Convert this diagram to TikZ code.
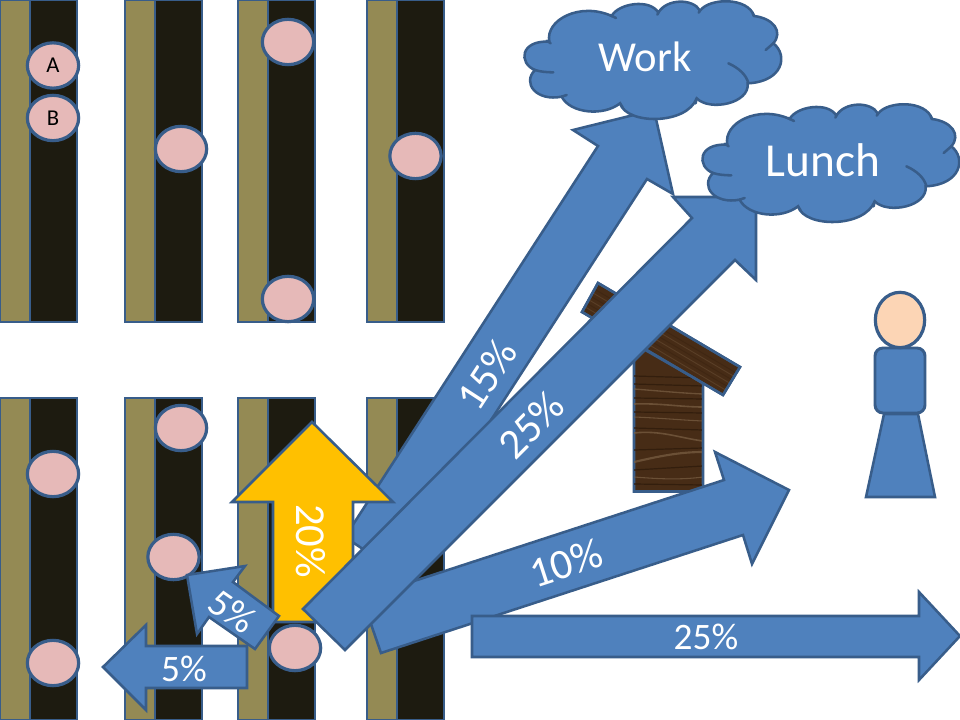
\documentclass[tikz,border=0pt]{standalone}
\usepackage{fontspec}
\setmainfont{Carlito}
\usetikzlibrary{shapes.geometric,calc}
\definecolor{bluefill}{HTML}{4F81BD}
\definecolor{blueline}{HTML}{385D8A}
\definecolor{olivefill}{HTML}{948A54}
\definecolor{darkfill}{HTML}{1D1B10}
\definecolor{pinkfill}{HTML}{E6B9B8}
\definecolor{amberfill}{HTML}{FFC000}
\definecolor{skinfill}{HTML}{FCD5B5}
\definecolor{woodfill}{HTML}{472C16}
\definecolor{woodlight}{HTML}{7B6045}
\definecolor{wooddark}{HTML}{331E0D}
\tikzset{
  outl/.style={draw=blueline,line width=1.9pt,line join=miter},
  olivestrip/.style={outl,fill=olivefill},
  darkstrip/.style={outl,fill=darkfill},
  peg/.style={ellipse,outl,line width=2.4pt,fill=pinkfill,minimum width=38.5pt,minimum height=34pt,inner sep=0pt,font=\fontsize{17}{19}\selectfont,text=black},
  bluearrow/.style={outl,fill=bluefill},
  amberarrow/.style={outl,fill=amberfill},
  lbl/.style={text=white,inner sep=0pt,font=\fontsize{28}{30}\selectfont},
  lblbig/.style={lbl,font=\fontsize{32}{34}\selectfont},
  wood/.style={outl,fill=woodfill},
  streak/.style={woodlight,line width=.8pt,opacity=.7},
  dstreak/.style={wooddark,line width=.9pt},
  cloudfill/.style={outl,fill=bluefill,line width=1.9pt},
  cloudinner/.style={draw=blueline,line width=1.9pt,line cap=round}
}
\newcommand{\stripset}[2]{%
  \draw[olivestrip] (#1,#2) rectangle ++(30,322);
  \draw[darkstrip] (#1+30,#2) rectangle ++(47,322);
}
\newcommand{\cloudat}[2]{%
  \begin{scope}[shift={(#1,#2)},x=.25pt,y=-.25pt]
    \path[cloudfill] (208,125)
      .. controls (195,60) and (300,5) .. (395,48)
      .. controls (415,10) and (510,-5) .. (535,38)
      .. controls (560,-5) and (640,-5) .. (660,32)
      .. controls (690,-8) and (805,-8) .. (822,48)
      .. controls (880,55) and (910,95) .. (880,130)
      .. controls (925,165) and (910,245) .. (803,250)
      .. controls (810,310) and (690,335) .. (650,295)
      .. controls (620,375) and (440,375) .. (420,310)
      .. controls (370,350) and (270,340) .. (245,290)
      .. controls (170,305) and (125,250) .. (165,210)
      .. controls (115,190) and (120,120) .. (208,125) -- cycle;
    \draw[cloudinner] (200,122) -- (212,130);
    \draw[cloudinner] (390,45) -- (408,54);
    \draw[cloudinner] (535,38) -- (532,44);
    \draw[cloudinner] (660,32) -- (656,38);
    \draw[cloudinner] (822,48) -- (818,40);
    \draw[cloudinner] (880,130) -- (857,150);
    \draw[cloudinner] (745,190) .. controls (775,203) and (800,225) .. (805,250);
    \draw[cloudinner] (650,295) -- (647,310);
    \draw[cloudinner] (420,310) -- (428,322);
    \draw[cloudinner] (245,290) -- (260,285);
    \draw[cloudinner] (165,210) .. controls (180,215) and (200,217) .. (220,217);
  \end{scope}
}
\begin{document}
\begin{tikzpicture}[x=.75pt,y=-.75pt]
\useasboundingbox (0,0) rectangle (960,720);
\clip (0,0) rectangle (960,720);
\fill[white] (0,0) rectangle (960,720);
% strips
\stripset{0}{0}\stripset{125}{0}\stripset{238}{0}\stripset{367}{0}
\stripset{0}{398}\stripset{125}{398}\stripset{238}{398}\stripset{367}{398}
% pegs
\node[peg] (pa) at (53,65.5) {A};
\node[peg] (pb) at (53,118) {B};
\node[peg] (p1) at (181,149) {};
\node[peg] (p2) at (288,42) {};
\node[peg] (p3) at (288,299) {};
\node[peg] (p4) at (415.5,156) {};
\node[peg] (p5) at (53,474) {};
\node[peg] (p6) at (53,663) {};
\node[peg] (p7) at (181,428) {};
\node[peg] (p8) at (173.5,557) {};
% house
\draw[wood] (634,491.5) -- (703,491.5) -- (703,383) -- (647,351) -- (634,343) -- cycle;
\begin{scope}
  \clip (634,491.5) -- (703,491.5) -- (703,383) -- (647,351) -- (634,343) -- cycle;
  \draw[dstreak] (634,376) -- (703,378);
  \draw[dstreak] (634,384) -- (703,386);
  \draw[streak,line width=1pt] (634,389) .. controls (660,391) and (680,393) .. (703,394);
  \draw[dstreak] (634,398) -- (703,399);
  \draw[streak,line width=1.2pt] (634,404) .. controls (660,403) and (680,407) .. (703,407);
  \draw[dstreak] (634,412) -- (703,413);
  \draw[streak] (634,417) .. controls (660,418) and (680,420) .. (703,421);
  \draw[dstreak] (634,428) -- (703,430);
  \draw[streak,line width=1.2pt] (634,433) .. controls (660,430) and (680,438) .. (703,441);
  \draw[dstreak] (634,450) -- (703,448);
  \draw[streak,line width=1.6pt] (634,462) .. controls (660,456) and (680,452) .. (703,452);
  \draw[dstreak] (634,470) -- (703,466);
  \draw[streak] (634,477) .. controls (660,479) and (680,480) .. (703,477);
  \draw[dstreak] (634,484) -- (703,485);
\end{scope}
\draw[blueline,line width=1.9pt] (634,491.5) -- (703,491.5) -- (703,383);
\draw[wood] (598,283) -- (740,367) -- (723,395) -- (582,312) -- cycle;
\begin{scope}
  \clip (598,283) -- (740,367) -- (723,395) -- (582,312) -- cycle;
  \foreach \d/\c in {5/wooddark,9/woodlight,13/wooddark,17/woodlight,21/wooddark,25/woodlight}{
    \draw[\c,line width=.7pt,opacity=.35] ($(598,283)+(-4,0)+(-.52*\d,.86*\d)$) -- ++(160,94.7);
  }
\end{scope}
\draw[outl] (598,283) -- (740,367) -- (723,395) -- (582,312) -- cycle;
% person
\draw[bluearrow] (884,414) -- (918,414) -- (935,497) -- (866,497) -- cycle;
\draw[bluearrow,line width=2.2pt,rounded corners=6pt] (875,348) rectangle (925,413);
\node[ellipse,outl,line width=2.4pt,fill=skinfill,minimum width=37pt,minimum height=41.5pt,inner sep=0pt] (head) at (900,320) {};
% arrows
\draw[bluearrow] (345,537) -- (598,146) -- (573,130) -- (654,110) -- (673,194) -- (647,179) -- (394,570) -- cycle;
\draw[amberarrow] (312,422) -- (393,502) -- (353,502) -- (353,622) -- (273,622) -- (273,502) -- (232,502) -- cycle;
\node[peg] (p9) at (295,648) {};
\draw[bluearrow] (187,575) -- (245,566) -- (233,582) -- (279,616) -- (255,649) -- (209,617) -- (197,634) -- cycle;
\draw[bluearrow] (103,667) -- (146,625) -- (146,646) -- (247,646) -- (247,688) -- (146,688) -- (146,710) -- cycle;
\draw[bluearrow] (362,598) -- (724,480) -- (715,452) -- (789,490) -- (752,564) -- (743,535) -- (381,653) -- cycle;
\draw[bluearrow] (303,609) -- (692,218) -- (673,197) -- (756,197) -- (756,280) -- (735,260) -- (345,650) -- cycle;
\draw[bluearrow] (472,616) -- (919,616) -- (919,592) -- (960,636) -- (919,680) -- (919,657) -- (472,657) -- cycle;
% clouds
\cloudat{480}{0}
\cloudat{658}{103}
% labels
\node[lblbig,rotate=57] (l15) at (487,375) {15\%};
\node[lblbig,rotate=45] (l25a) at (531,425) {25\%};
\node[lblbig,rotate=18] (l10) at (566,563) {10\%};
\node[lblbig,rotate=-90] (l20) at (311,541) {20\%};
\node[lbl,font=\fontsize{29}{30}\selectfont,rotate=-35] (l5a) at (232,611) {5\%};
\node[lbl] (l5b) at (184,669) {5\%};
\node[lbl] (l25b) at (706,637) {25\%};
\node[lbl,font=\fontsize{32}{34}\selectfont] (work) at (645,57) {Work};
\node[lbl,font=\fontsize{35.5}{38}\selectfont] (lunch) at (823,160) {Lunch};
\end{tikzpicture}
\end{document}
